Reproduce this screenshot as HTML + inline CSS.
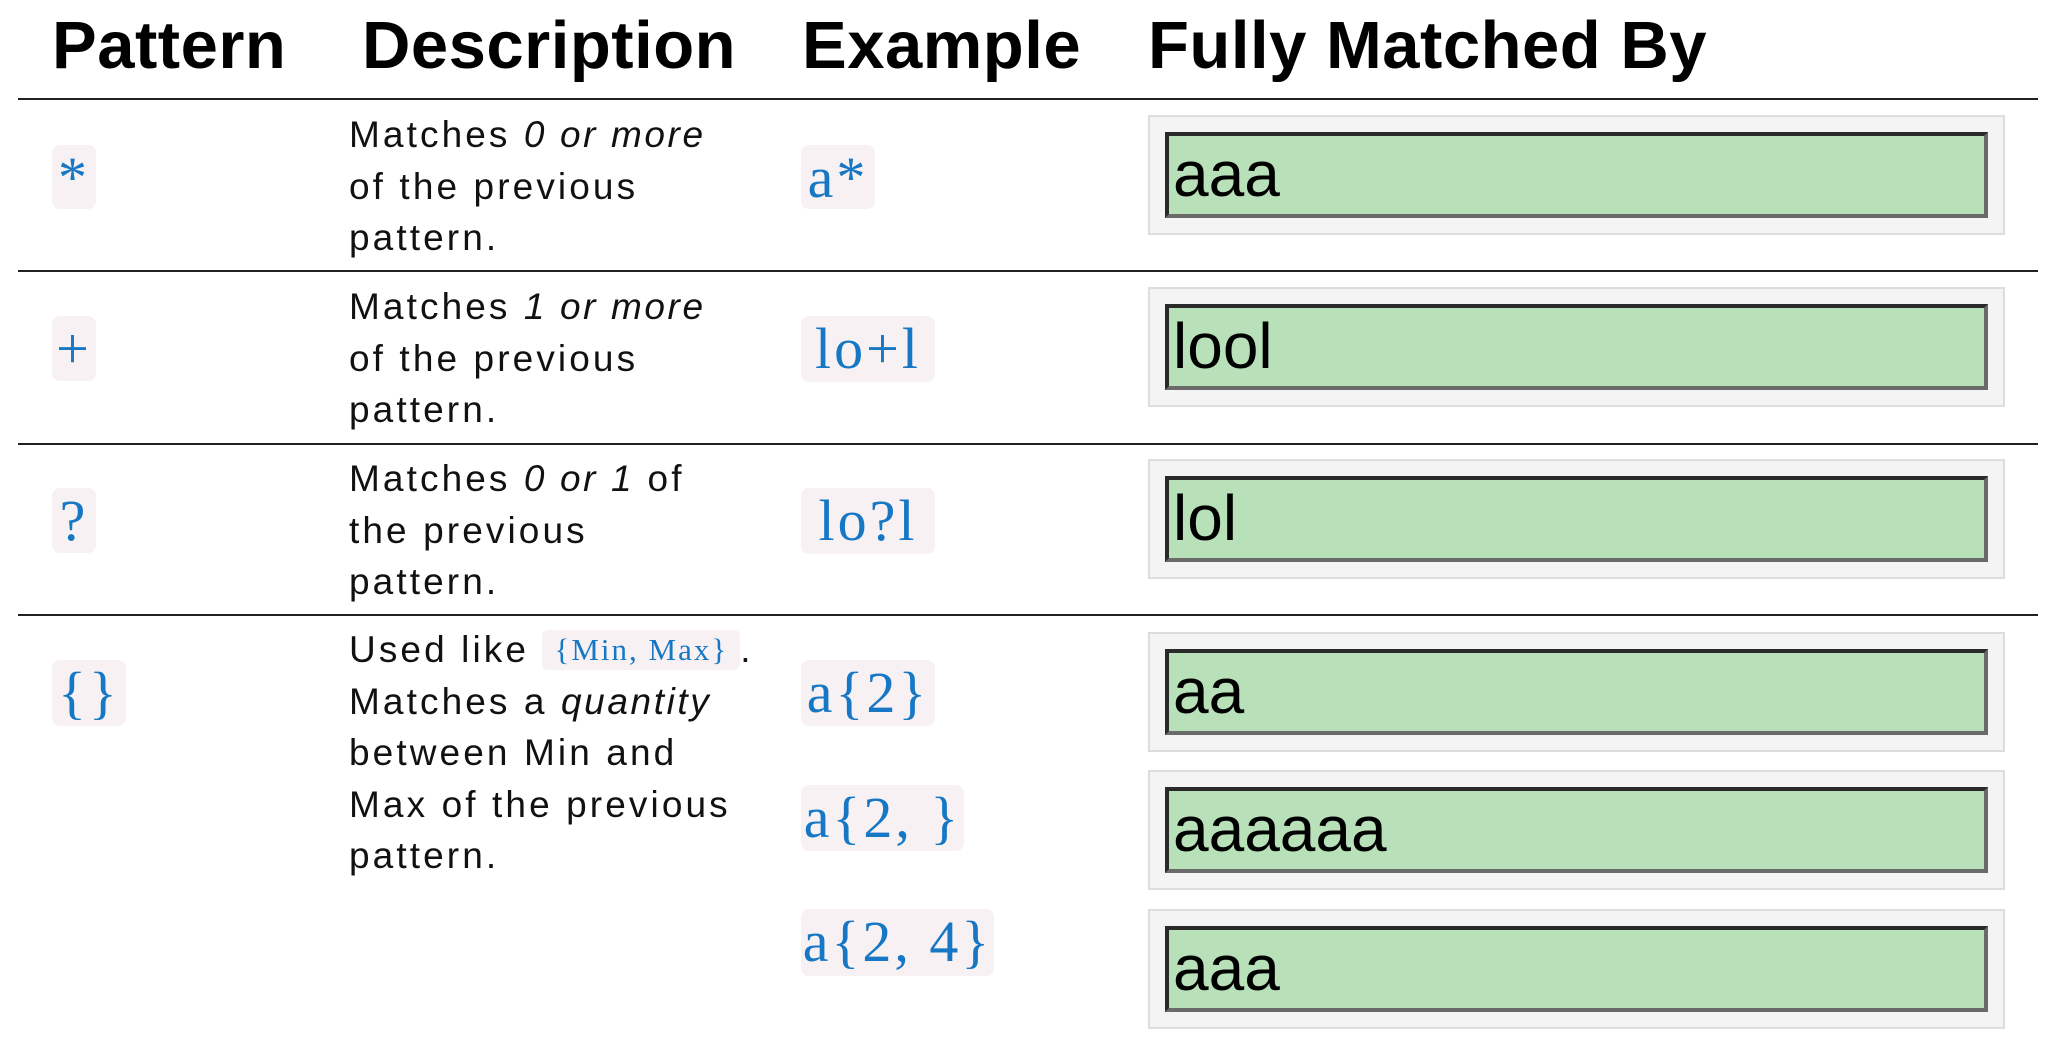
<!DOCTYPE html>
<html><head><meta charset="utf-8"><style>
html,body{margin:0;padding:0;background:#fff;}
body{width:2046px;height:1050px;position:relative;overflow:hidden;font-family:"Liberation Sans",sans-serif;}
.h{position:absolute;top:8px;font-weight:bold;font-size:67px;color:#000;letter-spacing:0.5px;line-height:76px;}
.line{position:absolute;left:18px;width:2020px;height:2px;background:#222;}
.chip{position:absolute;background:#f8f1f3;border-radius:8px;color:#1677c4;font-family:"Liberation Serif",serif;font-size:58px;line-height:66px;text-align:center;letter-spacing:3px;white-space:nowrap;}
.desc{position:absolute;left:349px;font-size:37px;line-height:51.5px;letter-spacing:3.1px;color:#111;}
.desc i{letter-spacing:2.6px;}
.ic{display:inline-block;background:#f8f1f3;border-radius:6px;color:#1677c4;font-family:"Liberation Serif",serif;font-size:31px;line-height:40px;padding:0 12px;letter-spacing:2px;vertical-align:2px;}
.outer{position:absolute;left:1148px;width:857px;height:120px;background:#f4f4f4;border:2px solid #ddd;box-sizing:border-box;}
.inner{position:absolute;left:15px;top:15px;width:823px;height:86px;background:#b8e0b9;box-sizing:border-box;border-top:4px solid #2a2a2a;border-left:4px solid #2a2a2a;border-right:4px solid #6a6a6a;border-bottom:4px solid #6a6a6a;font-size:64px;line-height:76px;padding-left:4px;color:#000;}
</style></head><body>
<div class="h" style="left:52px">Pattern</div>
<div class="h" style="left:362px">Description</div>
<div class="h" style="left:802px">Example</div>
<div class="h" style="left:1148px">Fully Matched By</div>

<div class="line" style="top:98px"></div>
<div class="line" style="top:270px"></div>
<div class="line" style="top:443px"></div>
<div class="line" style="top:614px"></div>

<div class="chip" style="left:52px;top:145px;width:44px;height:64px">*</div>
<div class="desc" style="top:109px">Matches <i>0 or more</i><br>of the previous<br>pattern.</div>
<div class="chip" style="left:801px;top:145px;width:74px;height:64px">a*</div>
<div class="outer" style="top:115px"><div class="inner">aaa</div></div>

<div class="chip" style="left:52px;top:316px;width:44px;height:65px">+</div>
<div class="desc" style="top:281px">Matches <i>1 or more</i><br>of the previous<br>pattern.</div>
<div class="chip" style="left:801px;top:316px;width:134px;height:66px">lo+l</div>
<div class="outer" style="top:287px"><div class="inner">lool</div></div>

<div class="chip" style="left:52px;top:488px;width:44px;height:65px">?</div>
<div class="desc" style="top:453px">Matches <i>0 or 1</i> of<br>the previous<br>pattern.</div>
<div class="chip" style="left:801px;top:488px;width:134px;height:66px">lo?l</div>
<div class="outer" style="top:459px"><div class="inner">lol</div></div>

<div class="chip" style="left:52px;top:660px;width:74px;height:66px">{}</div>
<div class="desc" style="top:624px">Used like <span class="ic">{Min, Max}</span>.<br>Matches a <i>quantity</i><br>between Min and<br>Max of the previous<br>pattern.</div>
<div class="chip" style="left:801px;top:660px;width:134px;height:66px">a{2}</div>
<div class="chip" style="left:801px;top:785px;width:163px;height:66px">a{2, }</div>
<div class="chip" style="left:801px;top:909px;width:193px;height:67px">a{2, 4}</div>
<div class="outer" style="top:632px"><div class="inner">aa</div></div>
<div class="outer" style="top:770px"><div class="inner">aaaaaa</div></div>
<div class="outer" style="top:909px"><div class="inner">aaa</div></div>
</body></html>
